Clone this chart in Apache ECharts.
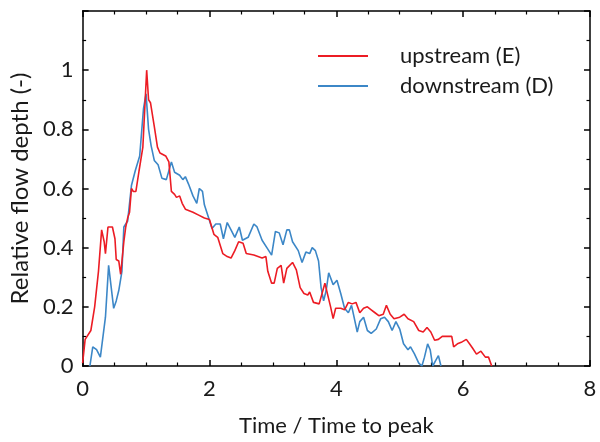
<!DOCTYPE html>
<html>
<head>
<meta charset="utf-8">
<script src="https://cdn.jsdelivr.net/npm/echarts@6/dist/echarts.min.js"></script>
<style>html,body{margin:0;padding:0;background:#fff;}#c{width:600px;height:442px;}</style>
</head>
<body>
<div id="c"></div>
<script>
const seriesNames = ['upstream (E)', 'downstream (D)'];
const xTicks = [0, 2, 4, 6, 8];
const yTicks = [0, 0.2, 0.4, 0.6, 0.8, 1];

const upX = [0,0.04,0.13,0.19,0.25,0.30,0.34,0.36,0.40,0.47,0.51,0.53,0.57,0.60,0.65,0.68,0.71,0.74,0.77,0.80,0.84,0.89,0.95,1.01,1.04,1.07,1.10,1.13,1.18,1.22,1.31,1.36,1.40,1.45,1.48,1.53,1.57,1.62,1.74,1.83,1.92,2.00,2.07,2.13,2.16,2.21,2.28,2.34,2.40,2.46,2.53,2.58,2.70,2.83,2.89,2.92,2.98,3.02,3.07,3.13,3.17,3.22,3.31,3.37,3.43,3.49,3.55,3.58,3.64,3.73,3.82,3.85,3.91,3.95,3.99,4.07,4.13,4.19,4.25,4.31,4.37,4.43,4.49,4.55,4.61,4.67,4.74,4.79,4.85,4.91,5.00,5.07,5.13,5.22,5.30,5.37,5.43,5.49,5.55,5.61,5.67,5.76,5.82,5.85,5.91,5.97,6.05,6.10,6.15,6.21,6.28,6.35,6.40,6.45];
const upY = [0.01,0.09,0.12,0.20,0.32,0.46,0.42,0.38,0.47,0.47,0.43,0.36,0.355,0.31,0.42,0.47,0.50,0.52,0.60,0.59,0.59,0.66,0.74,1.00,0.90,0.89,0.89,0.81,0.74,0.72,0.71,0.69,0.59,0.58,0.57,0.575,0.55,0.53,0.52,0.51,0.50,0.495,0.445,0.435,0.44,0.38,0.37,0.365,0.39,0.42,0.415,0.38,0.375,0.365,0.37,0.32,0.28,0.28,0.33,0.34,0.28,0.33,0.35,0.325,0.265,0.245,0.24,0.25,0.215,0.21,0.28,0.28,0.20,0.16,0.195,0.195,0.19,0.215,0.21,0.215,0.18,0.195,0.20,0.19,0.18,0.17,0.175,0.205,0.175,0.16,0.165,0.175,0.16,0.15,0.12,0.115,0.13,0.115,0.087,0.09,0.10,0.10,0.10,0.065,0.075,0.08,0.09,0.075,0.06,0.04,0.05,0.03,0.03,0];

const downX = [0.115,0.16,0.22,0.28,0.31,0.36,0.41,0.44,0.49,0.53,0.57,0.62,0.65,0.71,0.77,0.83,0.90,0.96,1.00,1.04,1.08,1.13,1.19,1.25,1.32,1.40,1.45,1.53,1.58,1.62,1.67,1.74,1.80,1.84,1.89,1.92,1.98,2.04,2.10,2.17,2.22,2.28,2.34,2.40,2.47,2.52,2.61,2.70,2.75,2.83,2.92,2.98,3.04,3.10,3.16,3.22,3.26,3.31,3.40,3.46,3.52,3.58,3.62,3.67,3.72,3.76,3.80,3.84,3.88,3.95,4.01,4.07,4.13,4.19,4.24,4.28,4.33,4.37,4.43,4.49,4.55,4.63,4.70,4.76,4.82,4.88,4.94,5.00,5.06,5.13,5.17,5.23,5.30,5.35,5.39,5.44,5.48,5.52,5.57,5.61,5.65];
const downY = [0,0.065,0.055,0.03,0.03,0.165,0.34,0.34,0.195,0.22,0.255,0.32,0.47,0.49,0.61,0.66,0.71,0.87,0.92,0.80,0.745,0.695,0.68,0.635,0.63,0.69,0.655,0.645,0.63,0.64,0.615,0.575,0.55,0.60,0.59,0.545,0.505,0.465,0.48,0.48,0.43,0.485,0.46,0.435,0.47,0.425,0.435,0.48,0.47,0.425,0.395,0.375,0.455,0.45,0.41,0.46,0.46,0.42,0.39,0.35,0.385,0.38,0.40,0.39,0.355,0.265,0.22,0.255,0.315,0.275,0.29,0.245,0.195,0.18,0.205,0.165,0.115,0.15,0.165,0.12,0.11,0.125,0.16,0.165,0.15,0.12,0.15,0.125,0.075,0.055,0.065,0.042,0.01,0,0.03,0.075,0.055,0,0.02,0.035,0];

const zip = (xs, ys) => xs.map((x, i) => [x, ys[i]]);
const FONT = 'Lato';
const TXT = '#1a1a1a';
const axisLine = { show: true, onZero: false, lineStyle: { color: '#000', width: 1.5 } };
const axisTick = { show: true, inside: true, length: 6, lineStyle: { color: '#000', width: 1.5 } };
const minor = n => ({ show: true, splitNumber: n, length: 3.5, lineStyle: { color: '#000', width: 1.2 } });

const chart = echarts.init(document.getElementById('c'), null, { renderer: 'canvas' });
chart.setOption({
  backgroundColor: '#fff',
  animation: false,
  grid: { left: 82, right: 10, top: 11, bottom: 73 },
  legend: {
    orient: 'vertical',
    left: 318, top: 45, padding: 0,
    itemWidth: 50, itemHeight: 2, itemGap: 8,
    icon: 'rect',
    textStyle: { fontFamily: FONT, fontSize: 22, color: TXT, padding: [0, 0, 0, 27] },
    data: seriesNames
  },
  xAxis: [
    {
      type: 'value', min: 0, max: 8, interval: 2, position: 'bottom',
      axisLine, axisTick, minorTick: minor(4), splitLine: { show: false },
      axisLabel: { fontFamily: FONT, fontSize: 22, color: TXT, margin: 12,
        formatter: v => xTicks.includes(v) ? String(v) : '' },
      name: 'Time / Time to peak', nameLocation: 'middle', nameGap: 49,
      nameTextStyle: { fontFamily: FONT, fontSize: 22, color: TXT }
    },
    {
      type: 'value', min: 0, max: 8, interval: 2, position: 'top',
      axisLine, axisTick, minorTick: minor(4),
      axisLabel: { show: false }, splitLine: { show: false }
    }
  ],
  yAxis: [
    {
      type: 'value', min: 0, max: 1.2, interval: 0.2, position: 'left',
      axisLine, axisTick, minorTick: minor(2), splitLine: { show: false },
      axisLabel: { fontFamily: FONT, fontSize: 22, color: TXT, margin: 9,
        formatter: v => { const r = Math.round(v * 10) / 10; return yTicks.includes(r) ? String(r) : ''; } },
      name: 'Relative flow depth (-)', nameLocation: 'middle', nameGap: 48,
      nameTextStyle: { fontFamily: FONT, fontSize: 24, color: TXT }
    },
    {
      type: 'value', min: 0, max: 1.2, interval: 0.2, position: 'right',
      axisLine, axisTick, minorTick: minor(2),
      axisLabel: { show: false }, splitLine: { show: false }
    }
  ],
  series: [
    { name: seriesNames[0], type: 'line', data: zip(upX, upY), showSymbol: false, symbol: 'none',
      color: '#ec1c24', lineStyle: { width: 1.6, color: '#ec1c24' }, z: 3 },
    { name: seriesNames[1], type: 'line', data: zip(downX, downY), showSymbol: false, symbol: 'none',
      color: '#3c87c7', lineStyle: { width: 1.6, color: '#3c87c7' }, z: 2 }
  ]
});
</script>
</body>
</html>
